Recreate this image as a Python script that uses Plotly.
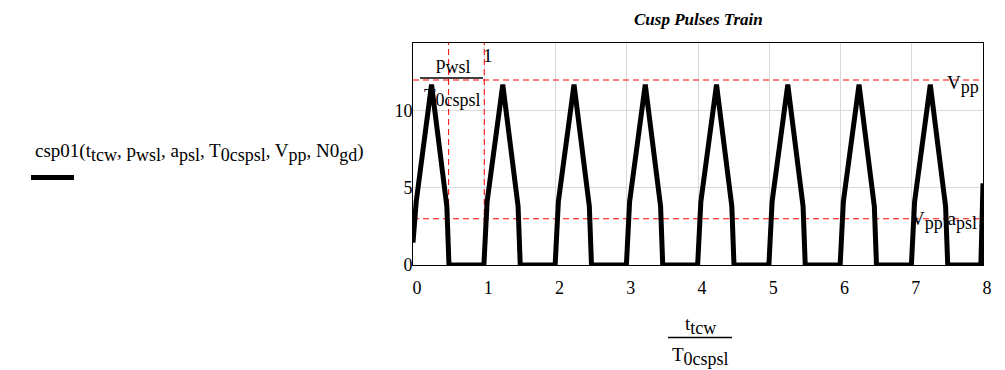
import plotly.graph_objects as go

# ---- data ----
t_norm = [0.0, 0.045, 0.26, 0.475, 0.505,
          0.995, 1.04, 1.26, 1.475, 1.505,
          1.995, 2.04, 2.26, 2.475, 2.505,
          2.995, 3.04, 3.26, 3.475, 3.505,
          3.995, 4.04, 4.26, 4.475, 4.505,
          4.995, 5.04, 5.26, 5.475, 5.505,
          5.995, 6.04, 6.26, 6.475, 6.505,
          6.995, 7.04, 7.26, 7.475, 7.505,
          7.97, 8.0]
csp01 = [1.45, 4.1, 11.7, 3.8, 0.0,
         0.0, 4.1, 11.7, 3.8, 0.0,
         0.0, 4.1, 11.7, 3.8, 0.0,
         0.0, 4.1, 11.7, 3.8, 0.0,
         0.0, 4.1, 11.7, 3.8, 0.0,
         0.0, 4.1, 11.7, 3.8, 0.0,
         0.0, 4.1, 11.7, 3.8, 0.0,
         0.0, 4.1, 11.7, 3.8, 0.0,
         0.0, 5.3]
Vpp = 12.0
a_psl = 0.25
pwsl_ratio = 0.5
period_mark = 1.0
x_range = [0, 8]
y_range = [0, 14.4]
x_ticks = [0, 1, 2, 3, 4, 5, 6, 7, 8]
y_ticks = [0, 5, 10]

OFF = 8  # page body margin
W, H = 1005 - OFF, 370 - OFF
L, R, T, B = 413, 983, 43, 265  # plot box in window pixels


def px(xp):
    return (xp - L) / (R - L)


def py(yp):
    return (B - yp) / (B - T)


FONT = "Liberation Serif"
MAIN = 19
SUBSZ = 18


def s(t):
    return f"<sub><span style='font-size:{SUBSZ}px'>{t}</span></sub>"


fig = go.Figure()

red = dict(color="#ff0000", width=1, dash="6px,4px")
fig.add_trace(go.Scatter(x=x_range, y=[Vpp, Vpp], mode="lines", line=red, hoverinfo="skip"))
fig.add_trace(go.Scatter(x=x_range, y=[Vpp * a_psl, Vpp * a_psl], mode="lines", line=red, hoverinfo="skip"))
fig.add_trace(go.Scatter(x=[pwsl_ratio, pwsl_ratio], y=y_range, mode="lines", line=red, hoverinfo="skip"))
fig.add_trace(go.Scatter(x=[period_mark, period_mark], y=y_range, mode="lines", line=red, hoverinfo="skip"))
fig.add_trace(go.Scatter(x=t_norm, y=csp01, mode="lines",
                         line=dict(color="black", width=5), hoverinfo="skip"))

ann = []


def add_text(xp, yp, text, size=MAIN, xanchor="center"):
    ann.append(dict(x=px(xp), y=py(yp), xref="paper", yref="paper", text=text,
                    showarrow=False, xanchor=xanchor, yanchor="middle",
                    font=dict(family=FONT, size=size, color="black")))


# title
add_text(698, 19, "<b><i>Cusp Pulses Train</i></b>", size=17)
# marker labels
add_text(453, 64, "p" + s("wsl"))
add_text(452, 97, "T" + s("0cspsl"))
add_text(488, 56, "1")
add_text(963, 84, "V" + s("pp"))
add_text(944, 220, "V" + s("pp") + " a" + s("psl"))
# legend text
add_text(33, 152, "csp01(t" + s("tcw") + ", p" + s("wsl") + ", a" + s("psl") + ", T" + s("0cspsl")
         + ", V" + s("pp") + ", N0" + s("gd") + ")", xanchor="left")
# x-axis title fraction
add_text(700, 325, "t" + s("tcw"))
add_text(700, 356, "T" + s("0cspsl"))

shapes = [
    dict(type="line", xref="paper", yref="paper", x0=px(420), x1=px(483), y0=py(78), y1=py(78),
         line=dict(color="black", width=1.5)),
    dict(type="line", xref="paper", yref="paper", x0=px(668), x1=px(732), y0=py(337.5), y1=py(337.5),
         line=dict(color="black", width=1.5)),
    dict(type="line", xref="paper", yref="paper", x0=px(31), x1=px(74), y0=py(177.5), y1=py(177.5),
         line=dict(color="black", width=5)),
]

fig.update_layout(
    width=W, height=H,
    margin=dict(l=L - OFF, r=W - (R - OFF), t=T - OFF, b=H - (B - OFF), pad=0),
    plot_bgcolor="white", paper_bgcolor="white",
    showlegend=False,
    annotations=ann, shapes=shapes,
    font=dict(family=FONT, size=MAIN, color="black"),
)
fig.update_xaxes(range=x_range, tickvals=x_ticks, showgrid=True, gridcolor="#d9d9d9", gridwidth=1,
                 showline=True, linecolor="black", linewidth=1, mirror=True, zeroline=False,
                 ticks="", tickfont=dict(family=FONT, size=18), ticklabelshift=4, ticklabelstandoff=6)
fig.update_yaxes(range=y_range, tickvals=y_ticks, showgrid=True, gridcolor="#d9d9d9", gridwidth=1,
                 showline=True, linecolor="black", linewidth=1, mirror=True, zeroline=False,
                 ticks="", tickfont=dict(family=FONT, size=18), ticklabelstandoff=-4)

fig.write_html("out.html")
